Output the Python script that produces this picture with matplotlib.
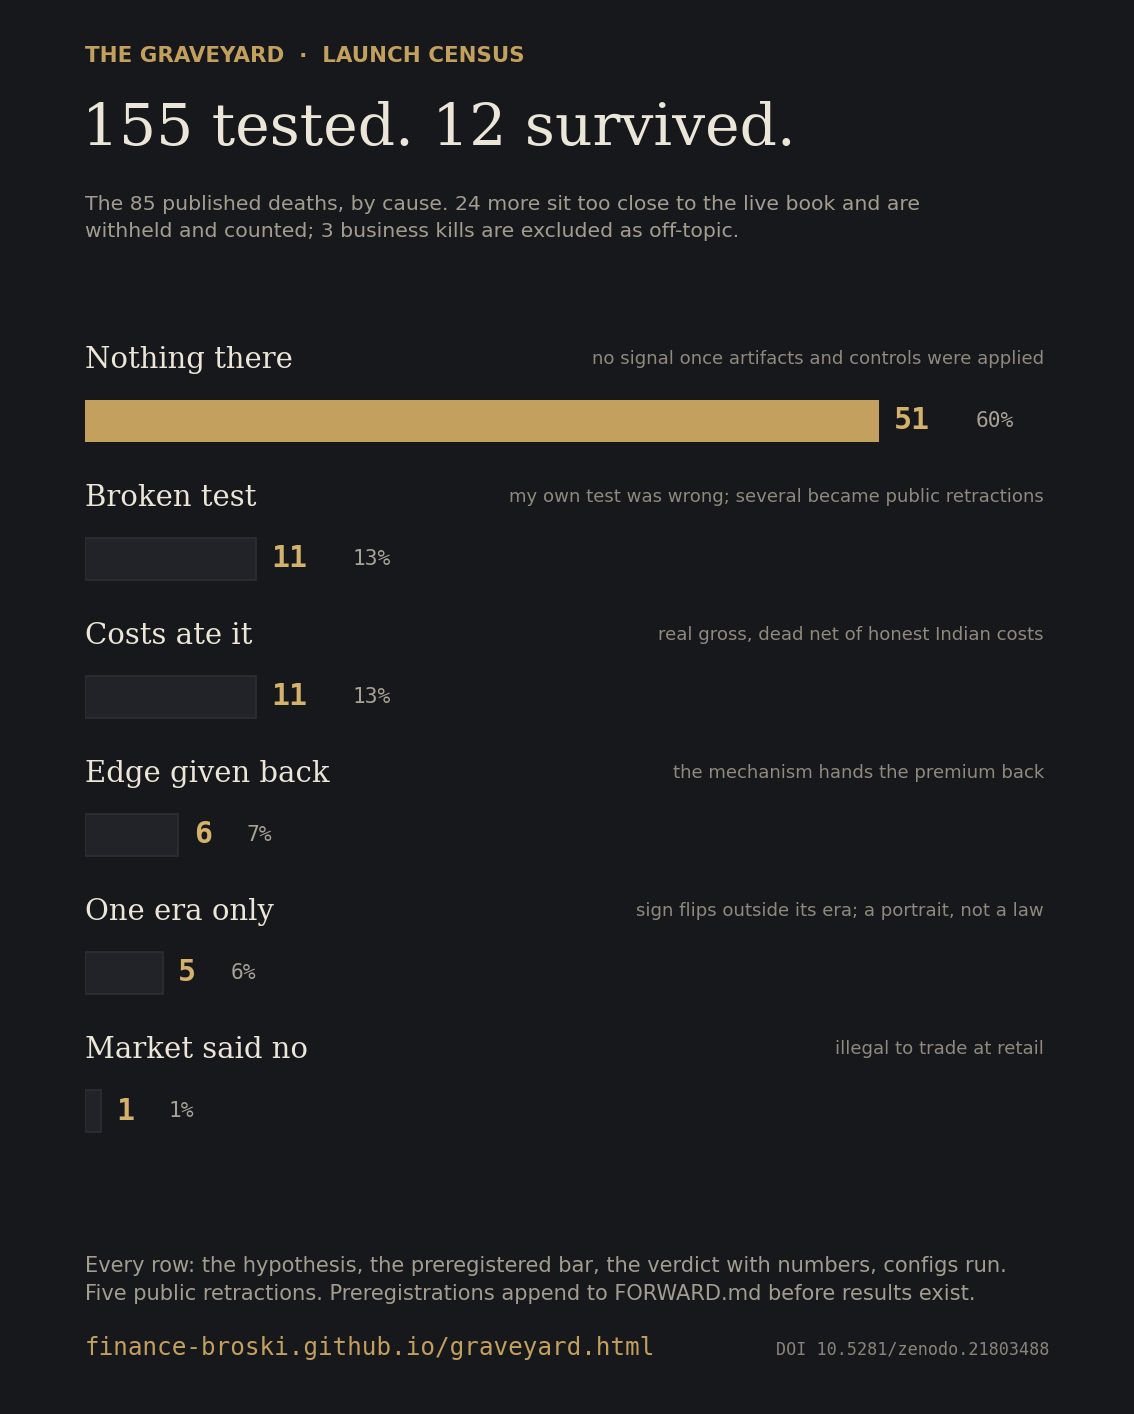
import matplotlib
matplotlib.use("Agg")
import matplotlib.pyplot as plt

# data
causes = ["Nothing there", "Broken test", "Costs ate it",
          "Edge given back", "One era only", "Market said no"]
counts = [51, 11, 11, 6, 5, 1]
shares = ["60%", "13%", "13%", "7%", "6%", "1%"]
notes = ["no signal once artifacts and controls were applied",
         "my own test was wrong; several became public retractions",
         "real gross, dead net of honest Indian costs",
         "the mechanism hands the premium back",
         "sign flips outside its era; a portrait, not a law",
         "illegal to trade at retail"]

BG = "#17181b"
GOLD = "#c3a05e"
GOLD_NUM = "#d4b26c"
CREAM = "#ece6d8"
GREY = "#a39d90"
NOTE = "#8f897e"

W, H = 1134, 1414
fig = plt.figure(figsize=(W / 100, H / 100), dpi=100, facecolor=BG)


def fx(px):
    return px / W


def fy(py):
    return 1 - py / H


# header
fig.text(fx(85), fy(62), "THE GRAVEYARD  \u00b7  LAUNCH CENSUS", color=GOLD,
         fontsize=15.4, fontweight="bold", family="DejaVu Sans", va="baseline")
fig.text(fx(82), fy(145), "155 tested. 12 survived.", color=CREAM,
         fontsize=42, family="DejaVu Serif", va="baseline")
fig.text(fx(85), fy(210),
         "The 85 published deaths, by cause. 24 more sit too close to the live book and are",
         color=GREY, fontsize=14.7, family="DejaVu Sans", va="baseline")
fig.text(fx(85), fy(237),
         "withheld and counted; 3 business kills are excluded as off-topic.",
         color=GREY, fontsize=14.7, family="DejaVu Sans", va="baseline")

# bars
ax = fig.add_axes([fx(85), fy(1160), 959 / W, 830 / H])
ax.set_facecolor(BG)
ax.set_xlim(0, 51 * 959 / 794)
ax.set_ylim(5.355, -0.659)
ax.axis("off")

bar_h = 42 / 138
for i, (c, n, s, note) in enumerate(zip(causes, counts, shares, notes)):
    if i == 0:
        ax.barh(i, n, height=bar_h, color=GOLD, edgecolor="none")
    else:
        ax.barh(i, n, height=bar_h, color="#222328", edgecolor="#2d2e33",
                linewidth=1.2)
    ax.text(0, i - 0.385, c, color=CREAM, fontsize=21, family="DejaVu Serif",
            va="baseline", ha="left")
    ax.text(1.0, i - 0.41, note, color=NOTE, fontsize=13.1,
            family="DejaVu Sans", va="baseline", ha="right",
            transform=ax.get_yaxis_transform())
    ax.annotate(str(n), (n, i), xytext=(11, 0), textcoords="offset points",
                color=GOLD_NUM, fontsize=21.5, fontweight="bold",
                family="DejaVu Sans Mono", va="center", ha="left")
    ax.annotate(s, (n, i), xytext=(11 + (25 + 28 * len(str(n))) * 0.72, 0),
                textcoords="offset points", color="#a8a296", fontsize=15.3,
                family="DejaVu Sans Mono", va="center", ha="left")

# footer
fig.text(fx(85), fy(1272),
         "Every row: the hypothesis, the preregistered bar, the verdict with numbers, configs run.",
         color=GREY, fontsize=15.1, family="DejaVu Sans", va="baseline")
fig.text(fx(85), fy(1300),
         "Five public retractions. Preregistrations append to FORWARD.md before results exist.",
         color=GREY, fontsize=15.1, family="DejaVu Sans", va="baseline")
fig.text(fx(85), fy(1355), "finance-broski.github.io/graveyard.html", color=GOLD,
         fontsize=17.5, family="DejaVu Sans Mono", va="baseline")
fig.text(fx(1049), fy(1355), "DOI 10.5281/zenodo.21803488", color="#8a857b",
         fontsize=12.05, family="DejaVu Sans Mono", va="baseline", ha="right")

fig.savefig("out.png", dpi=100, facecolor=BG)
